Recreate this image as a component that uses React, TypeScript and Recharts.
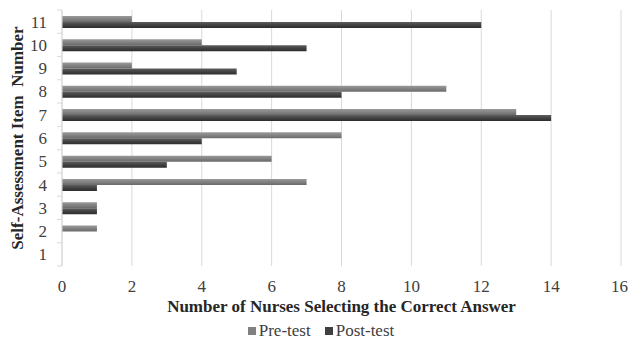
import { BarChart, Bar, XAxis, YAxis, CartesianGrid } from 'recharts';

const items = ['1', '2', '3', '4', '5', '6', '7', '8', '9', '10', '11'];
const preTest = [0, 1, 1, 7, 6, 8, 13, 11, 2, 4, 2];
const postTest = [0, 0, 1, 1, 3, 4, 14, 8, 5, 7, 12];
const xTicks = [0, 2, 4, 6, 8, 10, 12, 14, 16];
const series = [
  { key: 'pre', name: 'Pre-test', color: '#808080' },
  { key: 'post', name: 'Post-test', color: '#404040' },
];

const data = items.map((item, i) => ({ item, pre: preTest[i], post: postTest[i] }));

const FONT = "'Liberation Serif', 'Times New Roman', serif";
const BAND = 256 / items.length;

function ItemTick(props: any) {
  const { x, y, payload } = props;
  const axisX = x + 15;
  return (
    <g>
      <text x={x} y={y} dy={6} textAnchor="end" fill="#404040" fontSize={17} fontFamily={FONT}>
        {payload.value}
      </text>
      <line x1={axisX - 5} x2={axisX} y1={y + BAND / 2} y2={y + BAND / 2} stroke="#d9d9d9" />
      {payload.value === '11' && (
        <line x1={axisX - 5} x2={axisX} y1={y - BAND / 2} y2={y - BAND / 2} stroke="#d9d9d9" />
      )}
    </g>
  );
}

export default function App() {
  return (
    <div style={{ position: 'absolute', left: 0, top: 0, width: 628, height: 339, background: '#fff' }}>
      <BarChart
        width={628}
        height={318}
        data={data}
        layout="vertical"
        margin={{ top: 10, right: 7, bottom: 0, left: 0 }}
        barGap={0}
        style={{ fontFamily: FONT }}
      >
        <defs>
          <linearGradient id="preGrad" x1="0" y1="0" x2="0" y2="1">
            <stop offset="0%" stopColor="#9a9a9a" />
            <stop offset="50%" stopColor="#828282" />
            <stop offset="100%" stopColor="#6a6a6a" />
          </linearGradient>
          <linearGradient id="postGrad" x1="0" y1="0" x2="0" y2="1">
            <stop offset="0%" stopColor="#5e5e5e" />
            <stop offset="50%" stopColor="#424242" />
            <stop offset="100%" stopColor="#2c2c2c" />
          </linearGradient>
        </defs>
        <CartesianGrid horizontal={false} stroke="#d9d9d9" />
        <XAxis
          type="number"
          domain={[0, 16]}
          ticks={xTicks}
          axisLine={false}
          tickLine={false}
          tick={{ fill: '#404040', fontSize: 17, fontFamily: FONT }}
          tickMargin={8}
          height={52}
          label={{
            value: 'Number of Nurses Selecting the Correct Answer',
            position: 'insideBottom',
            offset: 6,
            fill: '#262626',
            fontSize: 17,
            fontWeight: 'bold',
            fontFamily: FONT,
          }}
        />
        <YAxis
          type="category"
          dataKey="item"
          reversed
          interval={0}
          width={62}
          axisLine={{ stroke: '#d9d9d9' }}
          tickLine={false}
          tickSize={0}
          tickMargin={15}
          tick={<ItemTick />}
          label={{
            value: 'Self-Assessment Item \u00a0Number',
            angle: -90,
            position: 'insideLeft',
            offset: 17,
            style: { textAnchor: 'middle' },
            fill: '#262626',
            fontSize: 17,
            fontWeight: 'bold',
            fontFamily: FONT,
          }}
        />
        <Bar dataKey="pre" name="Pre-test" fill="url(#preGrad)" barSize={6} isAnimationActive={false} />
        <Bar dataKey="post" name="Post-test" fill="url(#postGrad)" barSize={6} isAnimationActive={false} />
      </BarChart>
      <div
        style={{
          position: 'absolute',
          left: 0,
          top: 322,
          width: 628,
          display: 'flex',
          justifyContent: 'center',
          gap: 14,
          fontSize: 17,
          fontFamily: FONT,
          color: '#404040',
          paddingLeft: 14,
          boxSizing: 'border-box',
          lineHeight: '17px',
        }}
      >
        {series.map((s) => (
          <span key={s.key} style={{ display: 'flex', alignItems: 'center', gap: 3 }}>
            <span style={{ width: 8, height: 8, background: s.color, display: 'inline-block' }} />
            {s.name}
          </span>
        ))}
      </div>
    </div>
  );
}
